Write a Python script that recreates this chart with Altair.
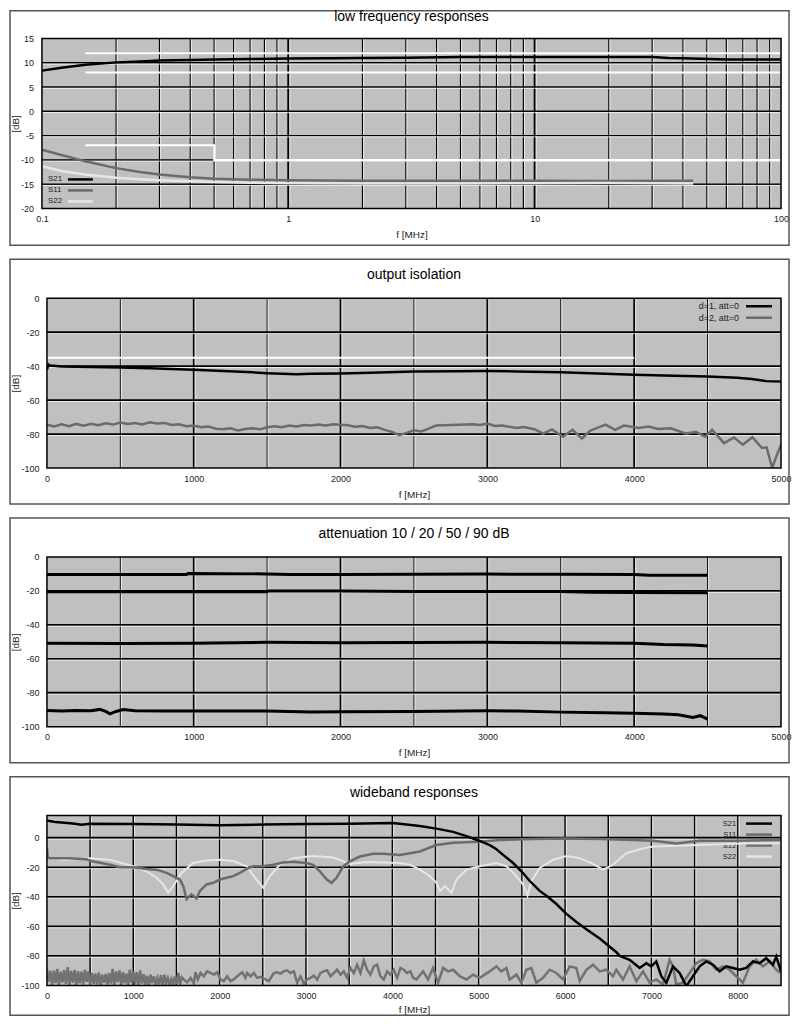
import altair as alt
import pandas as pd

FONT = "Liberation Sans"
C_BG = "#c0c0c0"
C_S11 = "#6b6b6b"
C_S12 = "#727272"
C_S22 = "#e6e6e6"
C_TXT = "#222222"

# ---------------- panel 1: low frequency responses (log f) ----------------
lf_s21_f = [0.1, 0.12, 0.15, 0.2, 0.25, 0.3, 0.4, 0.5, 0.7, 1, 1.5, 2, 3, 5, 7, 10, 20, 30, 35, 40, 60, 100]
lf_s21_v = [8.4, 9.0, 9.6, 10.1, 10.3, 10.5, 10.6, 10.7, 10.8, 10.9, 10.95, 11.0, 11.05, 11.2, 11.2, 11.2, 11.2, 11.2, 11.0, 10.95, 10.7, 10.7]
lf_s11_f = [0.1, 0.12, 0.15, 0.2, 0.25, 0.3, 0.4, 0.5, 0.7, 1, 2, 5, 10, 20, 44]
lf_s11_v = [-7.9, -9.0, -10.3, -11.7, -12.5, -13.0, -13.6, -13.9, -14.1, -14.2, -14.3, -14.3, -14.3, -14.35, -14.3]
lf_s22_f = [0.1, 0.12, 0.15, 0.2, 0.25, 0.3, 0.4, 0.5, 0.7, 1, 2, 5, 10, 20, 30, 44]
lf_s22_v = [-11.3, -12.3, -13.0, -13.7, -14.0, -14.2, -14.4, -14.55, -14.7, -14.8, -14.85, -14.85, -14.8, -14.75, -14.8, -14.85]
lf_lim_hi_f = [0.15, 100]
lf_lim_hi_v = [12, 12]
lf_lim_lo_f = [0.15, 100]
lf_lim_lo_v = [8, 8]
lf_lim_rl_f = [0.15, 0.5, 0.5, 100]
lf_lim_rl_v = [-7, -7, -10, -10]
lf_yticks = [-20, -15, -10, -5, 0, 5, 10, 15]
lf_xlabels = [0.1, 1, 10, 100]
lf_xgrid_minor = [0.2, 0.3, 0.4, 0.5, 0.6, 0.7, 0.8, 0.9, 2, 3, 4, 5, 6, 7, 8, 9, 20, 30, 40, 50, 60, 70, 80, 90]
lf_xgrid_major = [1, 10]
lf_ygrid = [-15, -10, -5, 0, 5, 10]

# ---------------- panel 2: output isolation ----------------
iso1_f = [0, 10, 20, 100, 300, 500, 700, 1000, 1200, 1400, 1500, 1700, 1800, 2000, 2200, 2500, 2800, 3000, 3200, 3500, 3800, 4000, 4200, 4500, 4700, 4800, 4900, 5000]
iso1_v = [-42.0, -39.0, -39.6, -40.2, -40.5, -40.8, -41.2, -42.1, -42.8, -43.6, -44.1, -44.8, -44.5, -44.3, -43.8, -43.2, -43.0, -42.9, -43.1, -43.6, -44.4, -45.1, -45.5, -46.1, -46.8, -47.6, -48.8, -49.0]
iso2_f = [0, 50, 100, 150, 200, 250, 300, 350, 400, 450, 500, 550, 600, 650, 700, 750, 800, 850, 900, 950,
          1000, 1050, 1100, 1150, 1200, 1250, 1300, 1350, 1400, 1450, 1500, 1550, 1600, 1650, 1700, 1750, 1800, 1850, 1900, 1950,
          2000, 2050, 2100, 2150, 2200, 2250, 2300, 2350, 2400, 2450, 2500, 2550, 2600, 2650, 2700, 2800, 2900, 2950, 3000, 3050,
          3100, 3200, 3250, 3320, 3380, 3440, 3515, 3580, 3644, 3700, 3805, 3870, 3930, 4032, 4100, 4161, 4250, 4354, 4420, 4483,
          4531, 4612, 4680, 4740, 4805, 4870, 4902, 4940, 4965, 5000]
iso2_v = [-74.5, -75.5, -74.2, -75.3, -74.0, -75.0, -73.9, -74.8, -73.6, -74.4, -73.2, -74.0, -73.5, -74.3, -73.0, -73.8, -73.4, -74.6, -74.2, -75.3,
          -75.0, -76.0, -75.6, -76.8, -77.2, -76.6, -77.8, -77.0, -76.5, -77.2, -76.0, -75.4, -76.0, -74.9, -75.5, -74.6, -75.0, -74.4, -74.9, -74.2,
          -74.5, -74.8, -75.6, -75.2, -76.4, -76.0, -77.5, -78.7, -80.6, -79.3, -77.7, -78.4, -76.8, -75.0, -74.8, -74.5, -74.2, -74.6, -73.8, -75.2,
          -75.0, -76.4, -75.8, -77.1, -79.7, -77.2, -81.6, -77.5, -82.6, -78.0, -74.4, -77.5, -75.0, -76.4, -75.6, -77.0, -76.6, -79.7, -78.6, -81.6,
          -77.5, -85.3, -82.0, -86.2, -81.8, -88.2, -87.8, -100.0, -93.9, -86.2]
iso_lim_f = [0, 4000]
iso_lim_v = [-35, -35]

# ---------------- panel 3: attenuation ----------------
att10_f = [0, 500, 950, 960, 1500, 1650, 2000, 2500, 3000, 3500, 4000, 4100, 4500]
att10_v = [-10.3, -10.3, -10.3, -9.8, -10.0, -10.3, -10.3, -10.2, -10.1, -10.2, -10.4, -10.8, -10.8]
att20_f = [0, 1500, 1510, 2000, 2500, 3000, 3500, 3700, 4000, 4500]
att20_v = [-20.5, -20.5, -20.0, -20.0, -20.3, -20.3, -20.4, -20.8, -21.0, -21.1]
att50_f = [0, 500, 1000, 1500, 2000, 2500, 3000, 3500, 4000, 4200, 4400, 4500]
att50_v = [-50.8, -51.0, -50.8, -50.3, -50.6, -50.4, -50.3, -50.5, -50.8, -51.6, -51.8, -52.5]
att90_f = [0, 100, 200, 300, 360, 400, 430, 470, 520, 600, 800, 1000, 1500, 1800, 2000, 2500, 3000, 3200, 3500, 3800, 4000, 4200, 4300, 4400, 4450, 4500]
att90_v = [-90.5, -90.7, -90.5, -90.6, -89.8, -91.0, -92.4, -91.0, -89.9, -90.6, -90.8, -90.7, -90.7, -91.3, -91.2, -91.0, -90.6, -90.8, -91.4, -91.7, -92.0, -92.5, -93.0, -94.5, -93.5, -95.5]

# ---------------- panel 4: wideband responses ----------------
wb_s21_f = [0, 30, 100, 300, 400, 500, 1000, 1500, 2000, 2500, 3000, 3500, 4000, 4086, 4317, 4510, 4703, 4858,
            5004, 5128, 5205, 5282, 5398, 5494, 5591, 5706, 5784, 5899, 6015, 6131, 6246, 6401, 6517, 6594, 6632, 6747, 6863,
            6940, 6998, 7056, 7114, 7172, 7249, 7326, 7403, 7480, 7558, 7635, 7712, 7789, 7866, 7943, 8020, 8098, 8175, 8252, 8329,
            8406, 8445, 8500]
wb_s21_v = [11.8, 11.3, 10.6, 9.6, 8.9, 9.5, 9.3, 8.9, 8.4, 8.9, 9.3, 9.5, 10.0, 9.5, 7.9, 6.2, 4.0, 1.1,
            -2.0, -5.0, -7.8, -11.6, -17.1, -22.7, -29.3, -36.0, -39.3, -44.9, -51.6, -57.1, -62.0, -68.2, -73.8, -77.5, -80.0, -82.7, -88.2,
            -85.0, -87.1, -83.8, -93.8, -98.2, -87.1, -91.6, -100.5, -93.8, -87.1, -83.8, -86.0, -90.5, -87.1, -88.2, -89.4, -88.2, -83.8, -85.0, -81.6,
            -86.0, -80.5, -90.5]
wb_s11_f = [0, 10, 35, 250, 459, 498, 729, 845, 999, 1153, 1269, 1385, 1462, 1539, 1580, 1616, 1674, 1732, 1771, 1848,
            1925, 2002, 2079, 2157, 2234, 2311, 2388, 2504, 2620, 2735, 2851, 3001, 3083, 3160, 3237, 3295, 3353, 3430, 3507, 3623,
            3777, 3893, 4086, 4317, 4510, 4703, 5004, 5243, 5629, 6015, 6401, 6787, 7018, 7288, 7558, 7944, 8500]
wb_s11_v = [-7.0, -13.5, -13.8, -13.9, -14.5, -15.6, -18.3, -20.0, -20.0, -21.1, -21.6, -23.8, -26.0, -28.3, -33.0, -41.6, -38.3, -41.1, -36.0, -31.6,
            -30.5, -28.3, -27.1, -26.0, -23.8, -21.1, -19.3, -19.3, -18.3, -16.7, -16.2, -17.1, -18.3, -22.7, -28.2, -30.5, -27.1, -19.3, -16.0, -12.7,
            -10.9, -10.9, -11.6, -9.3, -4.9, -3.4, -2.7, -1.6, -0.9, -0.5, -0.9, -1.6, -2.0, -3.8, -2.0, -2.0, -1.6]
wb_s22_f = [0, 200, 500, 729, 999, 1153, 1269, 1346, 1404, 1462, 1559, 1694, 1848, 2002, 2157, 2311, 2427, 2504, 2581, 2697,
            2851, 3083, 3314, 3507, 3700, 4086, 4202, 4317, 4433, 4510, 4549, 4607, 4684, 4742, 4858, 5012, 5205, 5321, 5436, 5513,
            5564, 5610, 5706, 5861, 6015, 6169, 6304, 6439, 6555, 6709, 6864, 7018, 7558, 8137, 8500]
wb_s22_v = [-13.8, -14.9, -13.8, -14.9, -19.3, -22.7, -27.1, -31.6, -37.2, -32.7, -23.8, -17.1, -15.4, -14.9, -15.8, -19.3, -28.3, -33.8, -26.0, -18.3,
            -13.8, -12.3, -13.3, -17.8, -16.4, -17.1, -18.2, -21.6, -26.0, -30.5, -36.0, -32.7, -37.2, -28.3, -21.6, -19.3, -17.1, -19.3, -26.0, -31.6,
            -39.3, -29.4, -20.5, -14.9, -12.3, -13.8, -17.1, -21.6, -18.3, -10.5, -7.8, -6.0, -4.9, -3.8, -3.8]
# S12: dense sweep (20 MHz points) up to 1560 MHz, then sparser readings
wb_s12_dense_f = list(range(0, 1561, 20))
wb_s12_dense_v = [-89.0, -97.5, -90.2, -99.6, -90.0, -98.4, -88.9, -99.8, -90.7, -97.9,
                  -89.6, -99.2, -87.6, -99.7, -90.2, -98.1, -89.5, -99.9, -90.4, -98.6,
                  -90.7, -99.4, -89.4, -97.6, -90.6, -99.8, -91.6, -98.9, -92.0, -99.3,
                  -91.2, -99.9, -92.7, -98.2, -92.2, -99.5, -91.6, -98.8, -88.9, -99.7,
                  -90.5, -97.8, -89.8, -99.6, -91.0, -98.5, -92.0, -99.9, -89.4, -98.3,
                  -90.4, -99.4, -91.1, -99.8, -89.8, -98.7, -92.5, -99.5, -93.4, -99.9,
                  -92.8, -98.4, -93.8, -99.6, -94.9, -99.2, -93.0, -99.9, -92.7, -98.6,
                  -95.0, -99.5, -95.6, -99.8, -94.0, -99.1, -91.6, -99.6, -94.5]
wb_s12_sparse_f = [1585, 1624, 1663, 1701, 1720, 1747, 1778, 1817, 1855, 1894, 1933, 1971, 2010, 2048, 2087, 2125, 2164, 2203, 2261, 2299,
                   2318, 2357, 2396, 2434, 2473, 2531, 2569, 2627, 2666, 2704, 2743, 2781, 2820, 2859, 2897, 2936, 2974, 3013, 3051, 3090,
                   3129, 3167, 3206, 3244, 3283, 3321, 3360, 3399, 3437, 3476, 3514, 3553, 3592, 3630, 3669, 3707, 3746, 3784, 3823, 3862,
                   3900, 3939, 3977, 4016, 4055, 4093, 4132, 4170, 4209, 4240, 4278, 4355, 4413, 4471, 4529, 4587, 4645, 4703, 4780, 4857,
                   4934, 5011, 5127, 5204, 5262, 5320, 5358, 5436, 5493, 5551, 5609, 5667, 5744, 5821, 5899, 5976, 6053, 6130, 6169, 6246,
                   6323, 6400, 6477, 6554, 6593, 6670, 6747, 6825, 6902, 6979, 7056, 7133, 7210, 7249, 7287, 7365, 7442, 7519, 7596, 7673,
                   7750, 7828, 7905, 7982, 8059, 8136, 8213, 8290, 8368, 8445, 8499]
wb_s12_sparse_v = [-96.0, -97.8, -94.9, -98.7, -91.1, -96.0, -91.6, -93.8, -90.5, -91.6, -92.7, -91.1, -96.0, -97.1, -93.8, -97.1, -96.0, -93.8, -91.1, -94.9,
                   -91.6, -93.8, -91.6, -94.9, -94.2, -96.0, -97.1, -91.6, -91.1, -92.0, -90.5, -89.8, -91.6, -90.5, -98.2, -93.8, -98.7, -96.0, -94.9, -93.4,
                   -96.0, -91.6, -90.5, -89.8, -93.8, -91.6, -89.4, -92.7, -90.5, -94.9, -88.2, -91.6, -86.0, -91.6, -83.1, -89.4, -92.7, -87.1, -86.0, -93.8,
                   -96.0, -90.5, -92.7, -89.4, -94.9, -88.2, -89.4, -91.6, -90.5, -94.9, -96.0, -90.5, -96.0, -88.2, -98.2, -88.2, -90.5, -89.4, -93.8, -96.0,
                   -92.7, -94.9, -90.5, -87.1, -90.5, -88.2, -96.0, -92.7, -98.2, -89.4, -88.2, -98.2, -94.9, -89.4, -91.6, -96.0, -87.1, -88.2, -97.1, -89.4,
                   -86.0, -90.5, -89.4, -93.8, -89.4, -96.0, -87.1, -97.1, -90.5, -98.2, -96.0, -99.4, -82.7, -87.1, -99.4, -98.2, -91.6, -84.9, -82.7, -83.8,
                   -89.4, -87.1, -89.4, -93.8, -98.2, -87.1, -82.7, -87.1, -83.8, -89.4, -91.6]

lin_xlabels_5000 = [0, 1000, 2000, 3000, 4000, 5000]
lin_xgrid_major_5000 = [1000, 2000, 3000, 4000]
lin_xgrid_minor_5000 = [500, 1500, 2500, 3500, 4500]
db_yticks_100 = [-100, -80, -60, -40, -20, 0]
db_ygrid_100 = [-80, -60, -40, -20]
wb_xlabels = [0, 1000, 2000, 3000, 4000, 5000, 6000, 7000, 8000]
wb_xgrid = [500, 1000, 1500, 2000, 2500, 3000, 3500, 4000, 4500, 5000, 5500, 6000, 6500, 7000, 7500, 8000]
wb_yticks = [-100, -80, -60, -40, -20, 0]
wb_ygrid = [-80, -60, -40, -20, 0]

ONE = pd.DataFrame({"k": [0]})


def make_x(scale, labels, title_y):
    return alt.X("f:Q", scale=scale, axis=alt.Axis(
        values=labels, grid=False, ticks=False, domain=False, labelFlush=False,
        labelExpr="toString(datum.value)", labelPadding=6, labelFont=FONT, labelFontSize=9,
        labelColor=C_TXT, title="f [MHz]", titleFont=FONT, titleFontSize=10,
        titleFontWeight="normal", titleColor=C_TXT, titleY=title_y, titleBaseline="middle"))


def make_y(scale, labels, H, tx, lpad):
    return alt.Y("v:Q", scale=scale, axis=alt.Axis(
        values=labels, grid=False, ticks=False, domain=False, labelFlush=False,
        labelExpr="toString(datum.value)", labelPadding=lpad, labelFont=FONT, labelFontSize=9,
        labelColor=C_TXT, title="[dB]", titleFont=FONT, titleFontSize=10,
        titleFontWeight="normal", titleColor=C_TXT, titleX=tx, titleY=H / 2,
        titleAngle=270, titleAlign="center", titleBaseline="middle"))


def line(f, v, color, width, X, Y, clip=True):
    df = pd.DataFrame({"f": f, "v": v, "i": list(range(len(f)))})
    return alt.Chart(df).mark_line(color=color, strokeWidth=width, clip=clip).encode(
        x=X, y=Y, order="i:Q")


def vgrid(vals, X, width):
    df = pd.DataFrame({"f": vals})
    dark = alt.Chart(df).mark_rule(color="black", strokeWidth=width).encode(x=X)
    light = alt.Chart(df).mark_rule(color="white", strokeWidth=1, opacity=0.7,
                                    xOffset=width / 2 + 0.5).encode(x=X)
    return [dark, light]


def hgrid(vals, Y, width, x0, W):
    df = pd.DataFrame({"v": vals})
    dark = alt.Chart(df).mark_rule(color="black", strokeWidth=width).encode(
        y=Y, x=alt.value(x0), x2=alt.value(W))
    light = alt.Chart(df).mark_rule(color="white", strokeWidth=1, opacity=0.7,
                                    yOffset=width / 2 + 0.5).encode(
        y=Y, x=alt.value(x0), x2=alt.value(W))
    return [dark, light]


def legend(items, tx, ty0, dy, lx1, lx2, align, fsize):
    out = []
    for k, (lab, col, w) in enumerate(items):
        yy = ty0 + k * dy
        out.append(alt.Chart(ONE).mark_text(text=lab, align=align, baseline="middle", font=FONT,
                                            fontSize=fsize, color=C_TXT).encode(
            x=alt.value(tx), y=alt.value(yy)))
        out.append(alt.Chart(ONE).mark_rule(color=col, strokeWidth=w).encode(
            x=alt.value(lx1), x2=alt.value(lx2), y=alt.value(yy)))
    return out


def panel(W, H, L, R, T, B, x0, title, title_y, layers):
    bnd = alt.Chart(ONE).mark_rect(opacity=0).encode(
        x=alt.value(-L - 2), x2=alt.value(W + R + 2), y=alt.value(-T - 2), y2=alt.value(H + B + 2))
    box = alt.Chart(ONE).mark_rect(filled=False, stroke="#555555", strokeWidth=1.5).encode(
        x=alt.value(-L), x2=alt.value(W + R), y=alt.value(-T), y2=alt.value(H + B))
    bg = alt.Chart(ONE).mark_rect(fill=C_BG).encode(
        x=alt.value(x0), x2=alt.value(W), y=alt.value(0), y2=alt.value(H))
    frame = alt.Chart(ONE).mark_rect(filled=False, stroke="black", strokeWidth=1.5).encode(
        x=alt.value(x0), x2=alt.value(W), y=alt.value(0), y2=alt.value(H))
    ttl = alt.Chart(ONE).mark_text(text=title, font=FONT, fontSize=14, color="black",
                                   align="center", baseline="middle").encode(
        x=alt.value((x0 + W) / 2), y=alt.value(title_y))
    return alt.layer(bnd, box, bg, *layers, frame, ttl).properties(width=W, height=H)


W = 735
H = 170
L = 37
R = 8

# ---- panel 1 (plot 42..782, drawn from x0=-5 of a 735 wide view)
X1 = make_x(alt.Scale(type="log", domain=[0.1, 100], range=[-5, W], nice=False), lf_xlabels, 26)
Y1 = make_y(alt.Scale(domain=[-20, 15], nice=False, zero=False), lf_yticks, H, -31, 13.5)
p1_layers = (vgrid(lf_xgrid_minor, X1, 1.2) + vgrid(lf_xgrid_major, X1, 2) + hgrid(lf_ygrid, Y1, 1.5, -5, W)
             + [line(lf_lim_hi_f, lf_lim_hi_v, "white", 2, X1, Y1, False),
                line(lf_lim_lo_f, lf_lim_lo_v, "white", 2, X1, Y1, False),
                line(lf_lim_rl_f, lf_lim_rl_v, "white", 2, X1, Y1, False)]
             + legend([("S21", "black", 2.5), ("S11", C_S11, 2.5), ("S22", C_S22, 2.5)],
                      1, 141, 11, 21, 46, "left", 8)
             + [line(lf_s11_f, lf_s11_v, C_S11, 2.5, X1, Y1, False),
                line(lf_s22_f, lf_s22_v, C_S22, 2.5, X1, Y1, False),
                line(lf_s21_f, lf_s21_v, "black", 2.5, X1, Y1, False)])
p1 = panel(W, H, L, R, 28, 37, -5, "low frequency responses", -22, p1_layers)

# ---- panel 2
X2 = make_x(alt.Scale(domain=[0, 5000], nice=False), lin_xlabels_5000, 26)
Y2 = make_y(alt.Scale(domain=[-100, 0], nice=False), db_yticks_100, H, -31, 8)
p2_layers = (vgrid(lin_xgrid_minor_5000, X2, 1) + vgrid(lin_xgrid_major_5000, X2, 1.8) + hgrid(db_ygrid_100, Y2, 1.8, 0, W)
             + [line(iso_lim_f, iso_lim_v, "white", 2, X2, Y2)]
             + legend([("d=1, att=0", "black", 2.5), ("d=2, att=0", C_S11, 2.5)],
                      693, 8, 11.5, 700, 726, "right", 9)
             + [line(iso2_f, iso2_v, C_S11, 2.5, X2, Y2),
                line(iso1_f, iso1_v, "black", 2.5, X2, Y2)])
p2 = panel(W, H, L, R, 39, 36, 0, "output isolation", -23, p2_layers)

# ---- panel 3
X3 = make_x(alt.Scale(domain=[0, 5000], nice=False), lin_xlabels_5000, 26)
Y3 = make_y(alt.Scale(domain=[-100, 0], nice=False), db_yticks_100, H, -31, 8)
p3_layers = (vgrid(lin_xgrid_minor_5000, X3, 1) + vgrid(lin_xgrid_major_5000, X3, 1.8) + hgrid(db_ygrid_100, Y3, 1.8, 0, W)
             + [line(att10_f, att10_v, "black", 3, X3, Y3),
                line(att20_f, att20_v, "black", 3, X3, Y3),
                line(att50_f, att50_v, "black", 3, X3, Y3),
                line(att90_f, att90_v, "black", 3, X3, Y3)])
p3 = panel(W, H, L, R, 39, 36, 0, "attenuation 10 / 20 / 50 / 90 dB", -23, p3_layers)

# ---- panel 4
X4 = make_x(alt.Scale(domain=[0, 8500], nice=False), wb_xlabels, 24)
Y4 = make_y(alt.Scale(domain=[-100, 15], nice=False, zero=False), wb_yticks, H, -31, 8)
p4_layers = (vgrid(wb_xgrid, X4, 1.5) + hgrid(wb_ygrid, Y4, 1.8, 0, W)
             + legend([("S21", "black", 2.5), ("S11", C_S11, 2.5), ("S12", C_S12, 2.5), ("S22", C_S22, 2.5)],
                      690, 8, 11, 700, 726, "right", 7.5)
             + [line(wb_s12_dense_f + wb_s12_sparse_f, wb_s12_dense_v + wb_s12_sparse_v, C_S12, 2.5, X4, Y4),
                line(wb_s22_f, wb_s22_v, C_S22, 2, X4, Y4),
                line(wb_s11_f, wb_s11_v, C_S11, 2.5, X4, Y4),
                line(wb_s21_f, wb_s21_v, "black", 2.5, X4, Y4)])
p4 = panel(W, H, L, R, 39, 30, 0, "wideband responses", -23, p4_layers)

chart = alt.concat(p1, p2, p3, p4, columns=1).properties(
    spacing=10, bounds="full", padding=0, background="white"
).configure_view(strokeWidth=0)

chart.save("out.html", embed_options={"renderer": "svg", "actions": False})
